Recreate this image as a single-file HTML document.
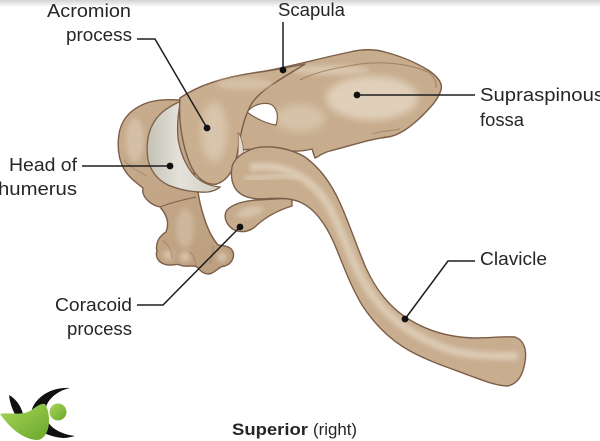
<!DOCTYPE html>
<html><head><meta charset="utf-8">
<style>
html,body{margin:0;padding:0;background:#fff;overflow:hidden;}
svg{display:block;}
text{font-family:"Liberation Sans",sans-serif;fill:#262626;font-size:18px;}
</style></head><body>
<svg width="600" height="441" viewBox="0 0 600 441" xmlns="http://www.w3.org/2000/svg">
<defs>
<linearGradient id="top" x1="0" y1="0" x2="0" y2="1"><stop offset="0" stop-color="#d2d2d2"/><stop offset="1" stop-color="#ffffff"/></linearGradient>
<linearGradient id="cart" x1="0" y1="0" x2="1" y2="0"><stop offset="0" stop-color="#c4c1b5"/><stop offset="0.45" stop-color="#e4e2da"/><stop offset="1" stop-color="#d0cdc1"/></linearGradient>
<linearGradient id="hum" x1="0" y1="0" x2="1" y2="1"><stop offset="0" stop-color="#c8ad8e"/><stop offset="1" stop-color="#bb9e7e"/></linearGradient>
<linearGradient id="grn" x1="0" y1="0" x2="1" y2="1"><stop offset="0" stop-color="#a8d65a"/><stop offset="1" stop-color="#6aa82a"/></linearGradient>
<filter id="b" x="-50%" y="-50%" width="200%" height="200%"><feGaussianBlur stdDeviation="4"/></filter>
<filter id="b2" x="-50%" y="-50%" width="200%" height="200%"><feGaussianBlur stdDeviation="2.5"/></filter>
<clipPath id="scapClip"><path d="M180,98 C200,84 230,76 260,72 C290,67 320,58 350,52 C362,49 375,49 385,52 C400,56 415,62 428,70 C437,76 443,83 441,90 C438,100 430,108 420,118 C410,127 400,135 388,137 C370,139 350,146 330,151 C322,153 318,157 315,158 L312,149 C300,152 285,152 270,148 L240,150 L215,170 Z"/></clipPath>
<clipPath id="clavClip"><path d="M232,167 C234,158 243,152 255,148 C270,145 290,148 305,157 C320,168 332,185 340,203 C348,220 356,245 366,268 C376,290 390,308 410,320 C428,331 450,337 472,338 C490,338 505,336 515,337 C524,340 527,350 525,362 C523,374 519,383 508,386 C496,386 482,380 468,375 C450,368 430,362 410,351 C390,340 375,325 362,305 C350,285 342,262 334,243 C326,225 316,210 302,203 C290,197 275,198 262,199 C250,199 240,196 235,188 C231,181 231,173 232,167 Z"/></clipPath>
</defs>

<rect x="0" y="0" width="600" height="7" fill="url(#top)"/>

<!-- Humerus -->
<path d="M180,100 C165,99 150,100 140,106 C128,112 121,122 119,134 C117,148 119,160 124,169 C129,178 138,184 143,188 C141,196 150,205 160,207 C166,214 170,222 166,232 C159,236 155,244 157,251 C155,256 158,262 164,264 C170,267 176,263 180,265 C186,268 192,264 197,267 C201,272 206,276 212,273 C218,270 220,266 225,266 C231,264 235,258 233,252 C231,246 225,246 218,245 C212,238 207,228 203,214 C200,205 199,198 198,192 Z" fill="url(#hum)" stroke="#7c5e49" stroke-width="1.4" stroke-linejoin="round"/>
<ellipse cx="135" cy="140" rx="9" ry="22" fill="#d8c5ad" filter="url(#b2)" opacity="0.8"/>
<ellipse cx="185" cy="228" rx="9" ry="20" fill="#d3bfa5" filter="url(#b2)" opacity="0.7"/>
<circle cx="168" cy="255" r="5" fill="#d6c3aa" filter="url(#b2)"/>
<circle cx="185" cy="257" r="5" fill="#d6c3aa" filter="url(#b2)"/>
<circle cx="222" cy="257" r="5" fill="#d6c3aa" filter="url(#b2)"/>
<path d="M160,207 C170,203 182,200 196,197" fill="none" stroke="#7c5e49" stroke-width="1.1"/>
<path d="M162,240 C168,244 172,250 172,258 M190,252 C194,256 196,262 196,266 M213,246 C214,252 212,258 210,264" fill="none" stroke="#9a7b62" stroke-width="1" opacity="0.7"/>
<path d="M124,160 C130,168 140,172 147,176" fill="none" stroke="#9a7b62" stroke-width="1" opacity="0.6"/>

<!-- Cartilage head -->
<path d="M181,101 C170,106 160,112 154,122 C147,133 146,148 148,160 C151,172 158,180 168,185 C180,190 195,193 208,192 C214,191 218,189 220,187 C210,186 200,182 193,174 C185,164 180,152 178,138 C177,125 178,112 181,101 Z" fill="url(#cart)" stroke="#7c5e49" stroke-width="1.3"/>

<!-- Scapula body -->
<path d="M180,98 C200,84 230,76 260,72 C290,67 320,58 350,52 C362,49 375,49 385,52 C400,56 415,62 428,70 C437,76 443,83 441,90 C438,100 430,108 420,118 C410,127 400,135 388,137 C370,139 350,146 330,151 C322,153 318,157 315,158 L312,149 C300,152 285,152 270,148 L240,150 L215,170 Z" fill="#c7ac8d" stroke="#7c5e49" stroke-width="1.4" stroke-linejoin="round"/>
<g clip-path="url(#scapClip)">
<ellipse cx="372" cy="98" rx="46" ry="22" fill="#e0d0ba" filter="url(#b)"/>
<ellipse cx="300" cy="118" rx="25" ry="14" fill="#d6c2a8" filter="url(#b)"/>
<ellipse cx="330" cy="70" rx="40" ry="5" fill="#d9c6ad" filter="url(#b2)"/>
</g>
<path d="M300,80 C315,72 335,68 360,64 C385,61 410,64 428,72 C434,76 437,82 436,88" fill="none" stroke="#8d6d56" stroke-width="1" opacity="0.7"/>
<path d="M372,134 C380,131 392,131 400,129" fill="none" stroke="#8d6d56" stroke-width="1" opacity="0.6"/>

<!-- Hole -->
<path d="M247,112 C253,105 262,102 270,104 C277,107 279,116 276,125 C268,124 256,119 247,112 Z" fill="#ffffff" stroke="#7c5e49" stroke-width="1.2"/>

<!-- Acromion -->
<path d="M180,98 C200,84 230,76 260,72 C275,70 290,67 305,64 C290,74 262,88 252,103 C243,118 240,138 237,155 C234,170 228,180 217,184 C205,186 195,176 190,164 C183,147 178,122 180,98 Z" fill="#c9ae8f" stroke="#7c5e49" stroke-width="1.4" stroke-linejoin="round"/>
<ellipse cx="214" cy="132" rx="13" ry="30" fill="#dac8b0" filter="url(#b)" opacity="0.9"/>
<ellipse cx="245" cy="84" rx="28" ry="6" fill="#d8c5ac" filter="url(#b2)" opacity="0.8"/>

<!-- glenoid rim sliver -->
<path d="M238,132 C243,140 245,152 242,165 L236,168 C238,158 239,145 238,132 Z" fill="#e2ddd0" stroke="#8d6d56" stroke-width="0.8"/>

<!-- Coracoid -->
<path d="M292,198 L256,200 C245,201 233,204 227,210 C222,218 228,228 237,231 C245,233 252,230 257,225 C266,217 279,210 292,206 Z" fill="#c6ab8c" stroke="#7c5e49" stroke-width="1.4" stroke-linejoin="round"/>
<ellipse cx="250" cy="212" rx="14" ry="5" fill="#d6c3aa" filter="url(#b2)" transform="rotate(-15 250 212)"/>

<!-- Clavicle -->
<path d="M232,167 C234,158 243,152 255,148 C270,145 290,148 305,157 C320,168 332,185 340,203 C348,220 356,245 366,268 C376,290 390,308 410,320 C428,331 450,337 472,338 C490,338 505,336 515,337 C524,340 527,350 525,362 C523,374 519,383 508,386 C496,386 482,380 468,375 C450,368 430,362 410,351 C390,340 375,325 362,305 C350,285 342,262 334,243 C326,225 316,210 302,203 C290,197 275,198 262,199 C250,199 240,196 235,188 C231,181 231,173 232,167 Z" fill="#c8ad8f" stroke="#7c5e49" stroke-width="1.4" stroke-linejoin="round"/>
<g clip-path="url(#clavClip)">
<path d="M250,168 C280,162 310,175 328,205 C343,232 352,265 370,292 C388,318 415,338 450,350 C475,357 500,356 518,356" fill="none" stroke="#dccab3" stroke-width="8" filter="url(#b2)"/>
<path d="M245,178 C265,180 280,172 300,178" fill="none" stroke="#dccab3" stroke-width="5" filter="url(#b2)"/>
</g>

<!-- Leader lines -->
<g fill="none" stroke="#1e1e1e" stroke-width="1.5">
<path d="M137,39 H155 L207,128"/>
<path d="M283,22 V70"/>
<path d="M357,95 H475"/>
<path d="M82,166 H170"/>
<path d="M137,305 H163 L240,227"/>
<path d="M475,261 H448 L405,319"/>
</g>
<g fill="#111">
<circle cx="207" cy="128" r="3.4"/>
<circle cx="283" cy="70" r="3.4"/>
<circle cx="357" cy="95" r="3.4"/>
<circle cx="170" cy="166" r="3.4"/>
<circle cx="240" cy="227" r="3.4"/>
<circle cx="405" cy="319" r="3.4"/>
</g>

<!-- Labels -->
<text x="47" y="17" textLength="84" lengthAdjust="spacingAndGlyphs">Acromion</text>
<text x="66" y="41" textLength="66" lengthAdjust="spacingAndGlyphs">process</text>
<text x="278" y="16" textLength="67" lengthAdjust="spacingAndGlyphs">Scapula</text>
<text x="480" y="101" textLength="124" lengthAdjust="spacingAndGlyphs">Supraspinous</text>
<text x="480" y="126" textLength="44" lengthAdjust="spacingAndGlyphs">fossa</text>
<text x="9" y="171" textLength="68" lengthAdjust="spacingAndGlyphs">Head of</text>
<text x="-2" y="195" textLength="79" lengthAdjust="spacingAndGlyphs">humerus</text>
<text x="55" y="311" textLength="77" lengthAdjust="spacingAndGlyphs">Coracoid</text>
<text x="67" y="335" textLength="65" lengthAdjust="spacingAndGlyphs">process</text>
<text x="480" y="265" textLength="67" lengthAdjust="spacingAndGlyphs">Clavicle</text>
<text x="232" y="435" textLength="76" lengthAdjust="spacingAndGlyphs" style="font-weight:bold;font-size:17px;">Superior</text>
<text x="313" y="435" textLength="44" lengthAdjust="spacingAndGlyphs" style="font-size:17px;">(right)</text>

<!-- Logo -->
<path d="M9,395 C16,399 21,406 23,414 L18,419 C13,412 10,404 9,395 Z" fill="#111"/>
<path d="M70,388 C52,387 37,396 32,409 C28,423 40,436 63,438 C67,438 71,437 75,436 C59,434 46,426 45,413 C45,401 56,391 70,388 Z" fill="#111"/>
<path d="M0,414 C10,412 20,416 30,411 C36,407 40,403 45,404 C49,410 50,421 48,429 C46,435 43,439 38,440 C28,440 18,434 10,426 C6,422 3,418 0,414 Z" fill="url(#grn)"/>
<circle cx="58" cy="412" r="8.5" fill="url(#grn)"/>
</svg>
</body></html>
